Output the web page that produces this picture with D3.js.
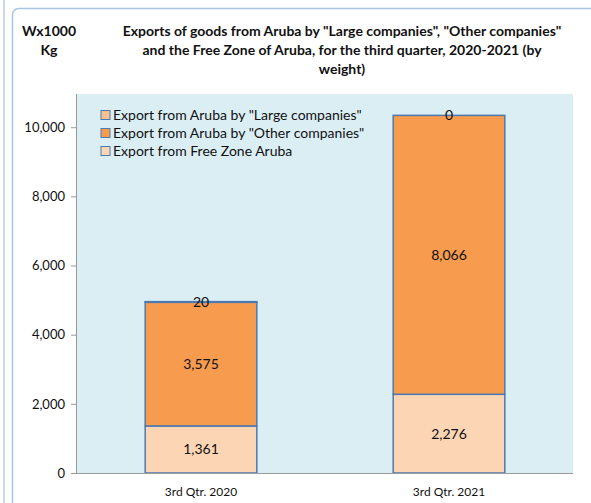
<!DOCTYPE html>
<html lang="en">
<head>
<meta charset="UTF-8">
<title>Exports of goods from Aruba</title>
<script src="https://cdn.jsdelivr.net/npm/d3@7"></script>
<style>
  body { margin: 0; background: #fff; }
  svg { display: block; font-family: Lato, "Open Sans", sans-serif; }
</style>
</head>
<body>
<script>
// data
const quarters = ["3rd Qtr. 2020", "3rd Qtr. 2021"];
const freeZone = [1361, 2276];
const otherCompanies = [3575, 8066];
const largeCompanies = [20, 0];
const seriesNames = [
  'Export from Aruba by "Large companies"',
  'Export from Aruba by "Other companies"',
  "Export from Free Zone Aruba"
];
const yTicks = [0, 2000, 4000, 6000, 8000, 10000];
const titleLines = [
  'Exports of goods from Aruba by "Large companies", "Other companies"',
  "and the Free Zone of Aruba, for the third quarter, 2020-2021 (by",
  "weight)"
];

const width = 591, height = 503;
const plot = { left: 77, right: 573, top: 94, bottom: 473 };

const svg = d3.select("body").append("svg")
  .attr("width", width).attr("height", height);

// outer frames
svg.append("line")
  .attr("x1", 4).attr("x2", 4).attr("y1", 0).attr("y2", height)
  .attr("stroke", "#b9cde5").attr("stroke-width", 1.5);
svg.append("rect")
  .attr("x", 12.5).attr("y", 8.5).attr("width", 620).attr("height", 540)
  .attr("rx", 6)
  .attr("fill", "none").attr("stroke", "#a9c4e4").attr("stroke-width", 1.5);

// plot background
svg.append("rect")
  .attr("x", plot.left).attr("y", plot.top)
  .attr("width", plot.right - plot.left).attr("height", plot.bottom - plot.top)
  .attr("fill", "#dbeef4");

const x = d3.scaleBand().domain(quarters)
  .range([plot.left, plot.right]).paddingInner(0.55).paddingOuter(0.275);
const y = d3.scaleLinear().domain([0, 10960]).range([plot.bottom, plot.top]);

// stack: free zone at the bottom, then other, then large
const rows = quarters.map((q, i) => ({
  q, free: freeZone[i], other: otherCompanies[i], large: largeCompanies[i]
}));
const keys = ["free", "other", "large"];
const fills = { free: "#fcd5b5", other: "#f79b4f", large: "#fac08f" };
const stacked = d3.stack().keys(keys)(rows);

const layer = svg.append("g").selectAll("g")
  .data(stacked).join("g")
  .attr("fill", d => fills[d.key]);

layer.selectAll("rect")
  .data(d => d)
  .join("rect")
  .attr("x", d => x(d.data.q))
  .attr("width", x.bandwidth())
  .attr("y", d => y(d[1]))
  .attr("height", d => y(d[0]) - y(d[1]))
  .attr("stroke", "#4a7ab0")
  .attr("stroke-width", 1.5);

// value labels
layer.selectAll("text")
  .data(d => d.map(v => ({ v, key: d.key })))
  .join("text")
  .attr("x", d => x(d.v.data.q) + x.bandwidth() / 2)
  .attr("y", d => (y(d.v[0]) + y(d.v[1])) / 2)
  .attr("dy", "0.35em")
  .attr("text-anchor", "middle")
  .attr("fill", "#111")
  .attr("font-size", 14)
  .text(d => d3.format(",")(d.v.data[d.key]));

// axes
const yAxis = d3.axisLeft(y).tickValues(yTicks).tickSize(6).tickPadding(6)
  .tickFormat(d3.format(","));
const gy = svg.append("g").attr("transform", `translate(${plot.left},0)`).call(yAxis);
gy.select(".domain").attr("stroke", "#999").attr("d", `M-0.5,${plot.top}V${plot.bottom}`);
gy.selectAll(".tick line").attr("stroke", "#999");
gy.selectAll(".tick text").attr("font-size", 13).attr("fill", "#111")
  .attr("font-family", "Lato, sans-serif");

const xAxis = d3.axisBottom(x).tickSize(0).tickPadding(14);
const gx = svg.append("g").attr("transform", `translate(0,${plot.bottom})`).call(xAxis);
gx.select(".domain").attr("stroke", "#999").attr("d", `M${plot.left - 6},0.5H${plot.right}`);
gx.selectAll(".tick text").attr("font-size", 12).attr("fill", "#111")
  .attr("font-family", "Lato, sans-serif");

// legend
const legendFills = [fills.large, fills.other, fills.free];
const legend = svg.append("g").selectAll("g")
  .data(seriesNames).join("g")
  .attr("transform", (d, i) => `translate(101,${115 + i * 18})`);
legend.append("rect")
  .attr("x", 0).attr("y", -4.5).attr("width", 9).attr("height", 9)
  .attr("fill", (d, i) => legendFills[i])
  .attr("stroke", "#4a7ab0").attr("stroke-width", 1);
legend.append("text")
  .attr("x", 12).attr("dy", "0.35em")
  .attr("font-size", 14).attr("fill", "#111")
  .text(d => d);

// title and unit
svg.append("g").selectAll("text")
  .data(titleLines).join("text")
  .attr("x", 342).attr("y", (d, i) => 31 + i * 19)
  .attr("dy", "0.35em")
  .attr("text-anchor", "middle")
  .attr("font-size", 14).attr("font-weight", "bold").attr("fill", "#111")
  .text(d => d);

svg.append("g").selectAll("text")
  .data(["Wx1000", "Kg"]).join("text")
  .attr("x", 49).attr("y", (d, i) => 31 + i * 19)
  .attr("dy", "0.35em")
  .attr("text-anchor", "middle")
  .attr("font-size", 14).attr("font-weight", "bold").attr("fill", "#111")
  .text(d => d);
</script>
</body>
</html>
